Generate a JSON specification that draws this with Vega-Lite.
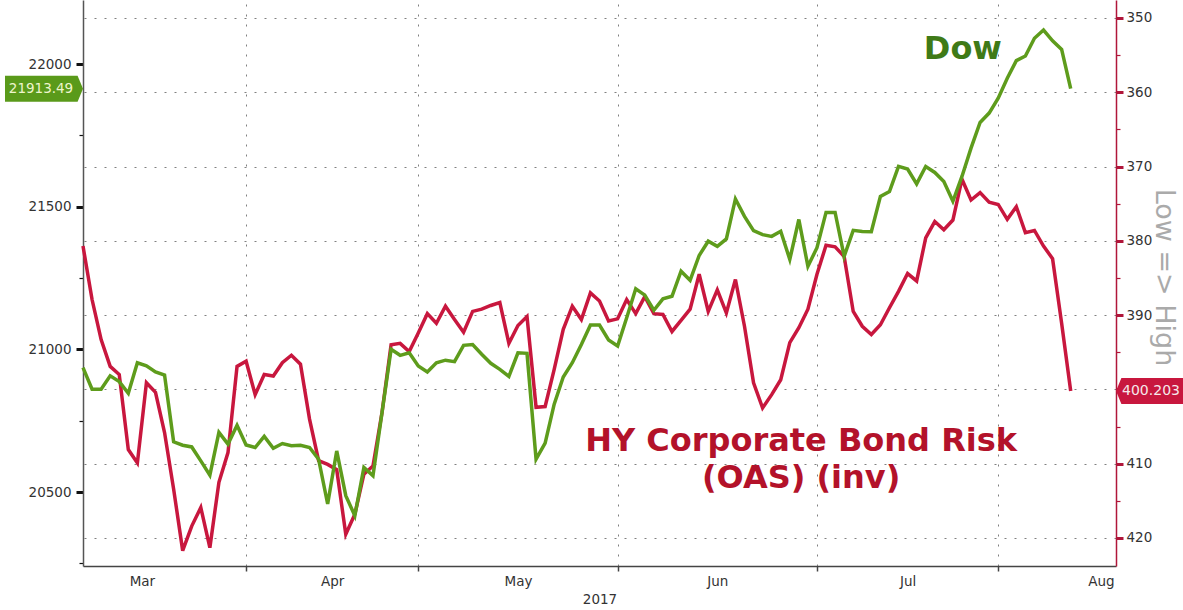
{
  "$schema": "https://vega.github.io/schema/vega-lite/v6.json",
  "width": 1033,
  "height": 566,
  "autosize": "none",
  "padding": {"left": 83, "top": 0, "right": 67, "bottom": 44},
  "background": "white",
  "config": {
    "view": {"stroke": null},
    "font": "DejaVu Sans",
    "axis": {"labelFont": "DejaVu Sans", "titleFont": "DejaVu Sans"}
  },
  "datasets": {
    "series": [
      {"t": 0, "dow": 20936, "oas": 380.7},
      {"t": 1, "dow": 20860, "oas": 387.9},
      {"t": 2, "dow": 20860, "oas": 393.3},
      {"t": 3, "dow": 20907, "oas": 396.9},
      {"t": 4, "dow": 20887, "oas": 398.0},
      {"t": 5, "dow": 20846, "oas": 408.1},
      {"t": 6, "dow": 20953, "oas": 409.9},
      {"t": 7, "dow": 20942, "oas": 399.1},
      {"t": 8, "dow": 20921, "oas": 400.4},
      {"t": 9, "dow": 20910, "oas": 405.8},
      {"t": 10, "dow": 20676, "oas": 413.4},
      {"t": 11, "dow": 20664, "oas": 421.7},
      {"t": 12, "dow": 20658, "oas": 418.4},
      {"t": 13, "dow": 20609, "oas": 415.9},
      {"t": 14, "dow": 20559, "oas": 421.3},
      {"t": 15, "dow": 20709, "oas": 412.5},
      {"t": 16, "dow": 20668, "oas": 408.5},
      {"t": 17, "dow": 20734, "oas": 396.9},
      {"t": 18, "dow": 20665, "oas": 396.2},
      {"t": 19, "dow": 20656, "oas": 400.7},
      {"t": 20, "dow": 20695, "oas": 398.0},
      {"t": 21, "dow": 20653, "oas": 398.2},
      {"t": 22, "dow": 20670, "oas": 396.4},
      {"t": 23, "dow": 20662, "oas": 395.4},
      {"t": 24, "dow": 20664, "oas": 396.6},
      {"t": 25, "dow": 20656, "oas": 404.0},
      {"t": 26, "dow": 20615, "oas": 409.6},
      {"t": 27, "dow": 20458, "oas": 410.1},
      {"t": 28, "dow": 20644, "oas": 410.8},
      {"t": 29, "dow": 20487, "oas": 419.5},
      {"t": 30, "dow": 20417, "oas": 416.8},
      {"t": 31, "dow": 20586, "oas": 411.4},
      {"t": 32, "dow": 20557, "oas": 410.3},
      {"t": 33, "dow": 20779, "oas": 403.1},
      {"t": 34, "dow": 21000, "oas": 394.0},
      {"t": 35, "dow": 20979, "oas": 393.8},
      {"t": 36, "dow": 20988, "oas": 394.9},
      {"t": 37, "dow": 20942, "oas": 392.4},
      {"t": 38, "dow": 20921, "oas": 389.8},
      {"t": 39, "dow": 20953, "oas": 391.1},
      {"t": 40, "dow": 20962, "oas": 388.8},
      {"t": 41, "dow": 20957, "oas": 390.6},
      {"t": 42, "dow": 21014, "oas": 392.3},
      {"t": 43, "dow": 21017, "oas": 389.5},
      {"t": 44, "dow": 20983, "oas": 389.2},
      {"t": 45, "dow": 20951, "oas": 388.7},
      {"t": 46, "dow": 20930, "oas": 388.3},
      {"t": 47, "dow": 20905, "oas": 393.8},
      {"t": 48, "dow": 20988, "oas": 391.4},
      {"t": 49, "dow": 20986, "oas": 390.2},
      {"t": 50, "dow": 20615, "oas": 402.4},
      {"t": 51, "dow": 20671, "oas": 402.3},
      {"t": 52, "dow": 20808, "oas": 397.3},
      {"t": 53, "dow": 20903, "oas": 391.9},
      {"t": 54, "dow": 20953, "oas": 388.8},
      {"t": 55, "dow": 21017, "oas": 390.6},
      {"t": 56, "dow": 21085, "oas": 387.0},
      {"t": 57, "dow": 21085, "oas": 388.1},
      {"t": 58, "dow": 21033, "oas": 390.8},
      {"t": 59, "dow": 21012, "oas": 390.5},
      {"t": 60, "dow": 21111, "oas": 387.9},
      {"t": 61, "dow": 21212, "oas": 389.8},
      {"t": 62, "dow": 21190, "oas": 387.5},
      {"t": 63, "dow": 21137, "oas": 389.8},
      {"t": 64, "dow": 21177, "oas": 389.9},
      {"t": 65, "dow": 21186, "oas": 392.2},
      {"t": 66, "dow": 21274, "oas": 390.7},
      {"t": 67, "dow": 21242, "oas": 389.2},
      {"t": 68, "dow": 21329, "oas": 384.5},
      {"t": 69, "dow": 21379, "oas": 389.5},
      {"t": 70, "dow": 21361, "oas": 386.6},
      {"t": 71, "dow": 21387, "oas": 389.7},
      {"t": 72, "dow": 21527, "oas": 385.2},
      {"t": 73, "dow": 21466, "oas": 391.5},
      {"t": 74, "dow": 21416, "oas": 399.1},
      {"t": 75, "dow": 21402, "oas": 402.5},
      {"t": 76, "dow": 21396, "oas": 400.7},
      {"t": 77, "dow": 21414, "oas": 398.7},
      {"t": 78, "dow": 21315, "oas": 393.7},
      {"t": 79, "dow": 21455, "oas": 391.7},
      {"t": 80, "dow": 21291, "oas": 389.2},
      {"t": 81, "dow": 21356, "oas": 384.5},
      {"t": 82, "dow": 21480, "oas": 380.6},
      {"t": 83, "dow": 21480, "oas": 380.8},
      {"t": 84, "dow": 21326, "oas": 382.1},
      {"t": 85, "dow": 21417, "oas": 389.5},
      {"t": 86, "dow": 21413, "oas": 391.5},
      {"t": 87, "dow": 21412, "oas": 392.6},
      {"t": 88, "dow": 21536, "oas": 391.3},
      {"t": 89, "dow": 21553, "oas": 389.0},
      {"t": 90, "dow": 21641, "oas": 386.8},
      {"t": 91, "dow": 21632, "oas": 384.4},
      {"t": 92, "dow": 21580, "oas": 385.4},
      {"t": 93, "dow": 21641, "oas": 379.6},
      {"t": 94, "dow": 21620, "oas": 377.4},
      {"t": 95, "dow": 21588, "oas": 378.5},
      {"t": 96, "dow": 21519, "oas": 377.2},
      {"t": 97, "dow": 21606, "oas": 371.7},
      {"t": 98, "dow": 21705, "oas": 374.5},
      {"t": 99, "dow": 21795, "oas": 373.5},
      {"t": 100, "dow": 21828, "oas": 374.8},
      {"t": 101, "dow": 21880, "oas": 375.1},
      {"t": 102, "dow": 21950, "oas": 377.1},
      {"t": 103, "dow": 22012, "oas": 375.4},
      {"t": 104, "dow": 22028, "oas": 378.9},
      {"t": 105, "dow": 22090, "oas": 378.6},
      {"t": 106, "dow": 22119, "oas": 380.7},
      {"t": 107, "dow": 22081, "oas": 382.4},
      {"t": 108, "dow": 22051, "oas": 391.1},
      {"t": 109, "dow": 21913.49, "oas": 400.203}
    ]
  },
  "layer": [
    {
      "layer": [
        {
          "data": {"name": "series"},
          "mark": {"type": "line", "color": "#c8173e", "strokeWidth": 3.5, "strokeMiterLimit": 4},
          "encoding": {
            "x": {
              "field": "t",
              "type": "quantitative",
              "scale": {"domain": [0, 114], "nice": false, "zero": false},
              "axis": {
                "orient": "bottom",
                "values": [6.5, 18, 27.5, 37, 48, 59, 70, 81, 91, 101, 113.8],
                "labelExpr": "datum.value == 6.5 ? 'Mar' : datum.value == 27.5 ? 'Apr' : datum.value == 48 ? 'May' : datum.value == 70 ? 'Jun' : datum.value == 91 ? 'Jul' : datum.value == 113.8 ? 'Aug' : ''",
                "labelFlush": false,
                "labelOverlap": false,
                "labelBound": false,
                "labelAlign": {"condition": {"test": "datum.value == 113.8", "value": "right"}, "value": "center"},
                "labelFontSize": 13.5,
                "labelColor": "#333333",
                "labelPadding": 3,
                "tickSize": 5,
                "tickWidth": 1.5,
                "tickColor": "#444444",
                "tickOpacity": {"condition": {"test": "datum.value == 18 || datum.value == 37 || datum.value == 59 || datum.value == 81 || datum.value == 101", "value": 1}, "value": 0},
                "grid": true,
                "gridColor": "#808080",
                "gridDash": [2, 8],
                "gridWidth": 1,
                "gridOpacity": {"condition": {"test": "datum.value == 18 || datum.value == 37 || datum.value == 59 || datum.value == 81 || datum.value == 101", "value": 1}, "value": 0},
                "domainColor": "#444444",
                "domainWidth": 1.5,
                "title": "2017",
                "titleFontSize": 13.5,
                "titleFontWeight": "normal",
                "titleColor": "#333333",
                "titlePadding": 5
              }
            },
            "y": {
              "field": "oas",
              "type": "quantitative",
              "scale": {"domain": [347.58, 423.77], "reverse": true, "nice": false, "zero": false},
              "axis": {
                "orient": "right",
                "values": [350, 355, 360, 365, 370, 375, 380, 385, 390, 395, 400, 405, 410, 415, 420],
                "labelExpr": "datum.value % 10 === 0 && datum.value != 400 ? format(datum.value, 'd') : ''",
                "labelOverlap": false,
                "labelBound": false,
                "labelFontSize": 13.5,
                "labelColor": "#333333",
                "labelPadding": 3,
                "labelBaseline": "middle",
                "tickColor": "#b0163a",
                "tickSize": 7,
                "tickWidth": {"condition": {"test": "datum.value % 10 === 0", "value": 3}, "value": 1.2},
                "tickDash": {"condition": {"test": "datum.value % 10 === 0", "value": [1, 0]}, "value": [4, 20]},
                "domainColor": "#b0163a",
                "domainWidth": 1.5,
                "grid": true,
                "gridColor": "#808080",
                "gridDash": [2, 8],
                "gridWidth": 1,
                "gridOpacity": {"condition": {"test": "datum.value % 10 === 0", "value": 1}, "value": 0},
                "title": "Low => High",
                "titleFontSize": 27,
                "titleFontWeight": "normal",
                "titleColor": "#aaaaaa",
                "titleAngle": 90,
                "titleX": 47,
                "titleY": 277,
                "titleAlign": "center",
                "titleBaseline": "middle"
              }
            }
          }
        },
        {
          "data": {"name": "series"},
          "transform": [{"filter": "datum.t == 109"}],
          "mark": {"type": "point", "shape": "M0,0L0.45,-1.08L6.5,-1.08L6.5,1.08L0.45,1.08Z", "size": 576, "filled": true, "color": "#c8173e", "opacity": 1, "strokeWidth": 0},
          "encoding": {
            "x": {"datum": 114, "type": "quantitative"},
            "y": {"field": "oas", "type": "quantitative"}
          }
        },
        {
          "data": {"name": "series"},
          "transform": [{"filter": "datum.t == 109"}],
          "mark": {"type": "text", "align": "center", "baseline": "middle", "dx": 35, "fontSize": 14, "color": "#f6e8ea", "font": "DejaVu Sans"},
          "encoding": {
            "x": {"datum": 114, "type": "quantitative"},
            "y": {"field": "oas", "type": "quantitative"},
            "text": {"field": "oas", "type": "quantitative", "format": ".3f"}
          }
        },
        {
          "data": {"values": [{}]},
          "mark": {"type": "text", "text": "HY Corporate Bond Risk", "align": "center", "baseline": "alphabetic", "fontSize": 32, "fontWeight": "bold", "color": "#b3122a", "font": "DejaVu Sans"},
          "encoding": {
            "x": {"datum": 79.25, "type": "quantitative"},
            "y": {"datum": 408.29, "type": "quantitative"}
          }
        },
        {
          "data": {"values": [{}]},
          "mark": {"type": "text", "text": "(OAS) (inv)", "align": "center", "baseline": "alphabetic", "fontSize": 32, "fontWeight": "bold", "color": "#b3122a", "font": "DejaVu Sans"},
          "encoding": {
            "x": {"datum": 79.25, "type": "quantitative"},
            "y": {"datum": 413.27, "type": "quantitative"}
          }
        }
      ]
    },
    {
      "layer": [
        {
          "data": {"name": "series"},
          "mark": {"type": "line", "color": "#5e9c1c", "strokeWidth": 3.5, "strokeMiterLimit": 4},
          "encoding": {
            "x": {"field": "t", "type": "quantitative"},
            "y": {
              "field": "dow",
              "type": "quantitative",
              "scale": {"domain": [20240.7, 22224.3], "nice": false, "zero": false},
              "axis": {
                "orient": "left",
                "values": [20250, 20500, 20750, 21000, 21250, 21500, 21750, 22000],
                "labelExpr": "datum.value % 500 === 0 ? format(datum.value, 'd') : ''",
                "labelOverlap": false,
                "labelBound": false,
                "labelFontSize": 13.5,
                "labelColor": "#333333",
                "labelPadding": 5,
                "labelBaseline": "middle",
                "tickColor": "#111111",
                "tickSize": 7,
                "tickWidth": {"condition": {"test": "datum.value % 500 === 0", "value": 3}, "value": 1.2},
                "tickDash": {"condition": {"test": "datum.value % 500 === 0", "value": [1, 0]}, "value": [4, 20]},
                "domainColor": "#555555",
                "domainWidth": 1.5,
                "grid": false,
                "title": null
              }
            }
          }
        },
        {
          "data": {"name": "series"},
          "transform": [{"filter": "datum.t == 109"}],
          "mark": {"type": "point", "shape": "M0,0L-0.45,-1.08L-6.5,-1.08L-6.5,1.08L-0.45,1.08Z", "size": 576, "filled": true, "color": "#5a9a1a", "opacity": 1, "strokeWidth": 0},
          "encoding": {
            "x": {"datum": 0, "type": "quantitative"},
            "y": {"field": "dow", "type": "quantitative"}
          }
        },
        {
          "data": {"name": "series"},
          "transform": [{"filter": "datum.t == 109"}],
          "mark": {"type": "text", "align": "center", "baseline": "middle", "dx": -42, "fontSize": 13.5, "color": "#eef5cc", "font": "DejaVu Sans"},
          "encoding": {
            "x": {"datum": 0, "type": "quantitative"},
            "y": {"field": "dow", "type": "quantitative"},
            "text": {"field": "dow", "type": "quantitative", "format": ".2f"}
          }
        },
        {
          "data": {"values": [{}]},
          "mark": {"type": "text", "text": "Dow", "align": "center", "baseline": "alphabetic", "fontSize": 32, "fontWeight": "bold", "color": "#3f7a17", "font": "DejaVu Sans"},
          "encoding": {
            "x": {"datum": 97.1, "type": "quantitative"},
            "y": {"datum": 22017.5, "type": "quantitative"}
          }
        }
      ]
    }
  ],
  "resolve": {"scale": {"y": "independent"}}
}
